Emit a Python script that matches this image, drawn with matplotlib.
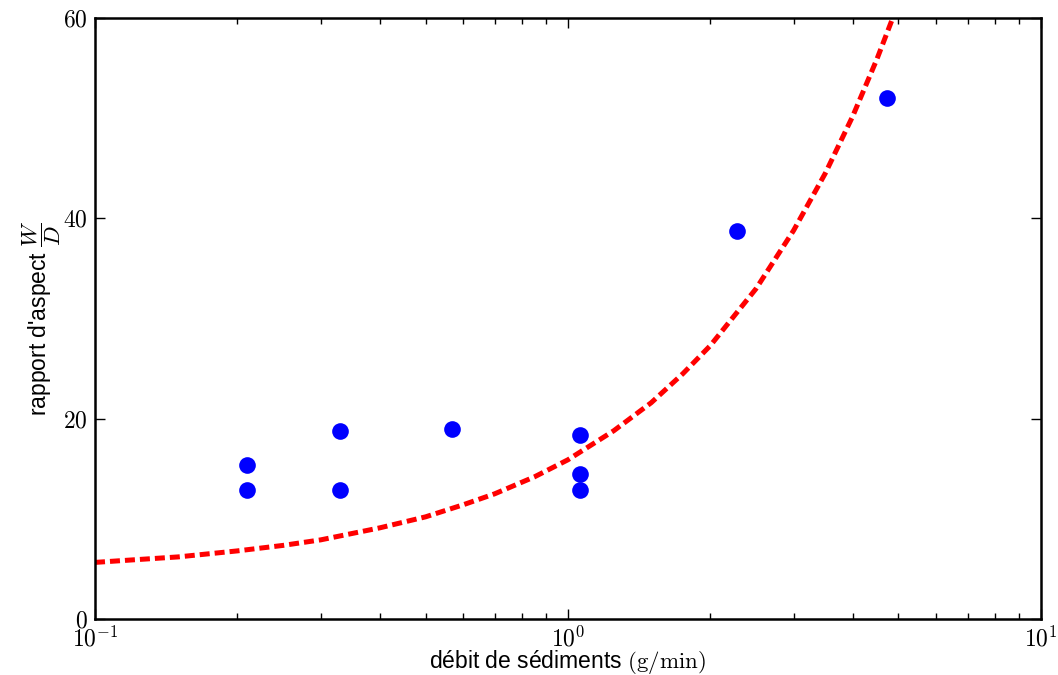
'''
Aspect ratio of channels against sediment discharge
'''

import numpy as np
import matplotlib
matplotlib.use('Agg')
import matplotlib.pyplot as plt
from matplotlib.ticker import FuncFormatter, LogLocator, NullLocator

# measured points
debit = [0.21, 0.21, 0.33, 0.33, 0.57, 1.06, 1.06, 1.06, 2.28, 4.72]
rapport = [15.4, 12.9, 18.8, 12.9, 19.0, 18.4, 14.5, 12.9, 38.7, 52.0]

# fitted trend
fit_debit = [0.1, 0.12, 0.15, 0.2, 0.25, 0.3, 0.4, 0.5, 0.6, 0.7, 0.85, 1.0,
             1.25, 1.5, 1.75, 2.0, 2.5, 3.0, 3.5, 4.0, 4.5, 4.86]
fit_rapport = [5.65, 5.9, 6.2, 6.8, 7.35, 7.9, 9.1, 10.2, 11.4, 12.5, 14.2, 15.9,
               18.8, 21.6, 24.5, 27.3, 33.0, 38.8, 44.5, 50.2, 55.9, 60.0]

plt.rc('font', family='Liberation Sans')
plt.rc('mathtext', fontset='cm')

fig = plt.figure(figsize=(10.58, 6.75), dpi=100)
ax = fig.add_axes([0.0898, 0.083, 0.894, 0.890])

ax.plot(fit_debit, fit_rapport, '-', color='red', lw=3.6, dashes=(2, 1))
ax.plot(debit, rapport, 'o', color='blue', markersize=12, markeredgewidth=0)

ax.set_xscale('log')
ax.set_xlim(0.1, 10)
ax.set_ylim(0, 60)
ax.set_yticks([0, 20, 40, 60])
ax.yaxis.set_minor_locator(NullLocator())
ax.xaxis.set_minor_locator(LogLocator(base=10, subs=np.arange(2, 10)))
ax.xaxis.set_major_formatter(FuncFormatter(lambda v, p: r'$10^{%d}$' % round(np.log10(v))))
ax.yaxis.set_major_formatter(FuncFormatter(lambda v, p: r'$%d$' % v))

for s in ax.spines.values():
    s.set_linewidth(1.8)

ax.tick_params(which='both', direction='in', top=True, right=True, labelsize=17, pad=5)
ax.tick_params(which='major', length=7, width=1)
ax.tick_params(which='minor', length=4, width=1)

ax.set_xlabel(r"débit de sédiments $(\mathrm{g/min})$", fontsize=16.5, labelpad=-2)
ax.set_ylabel(r"rapport d'aspect $\dfrac{W}{D}$", fontsize=16.5, labelpad=0)

plt.savefig('out.png', dpi=100)
